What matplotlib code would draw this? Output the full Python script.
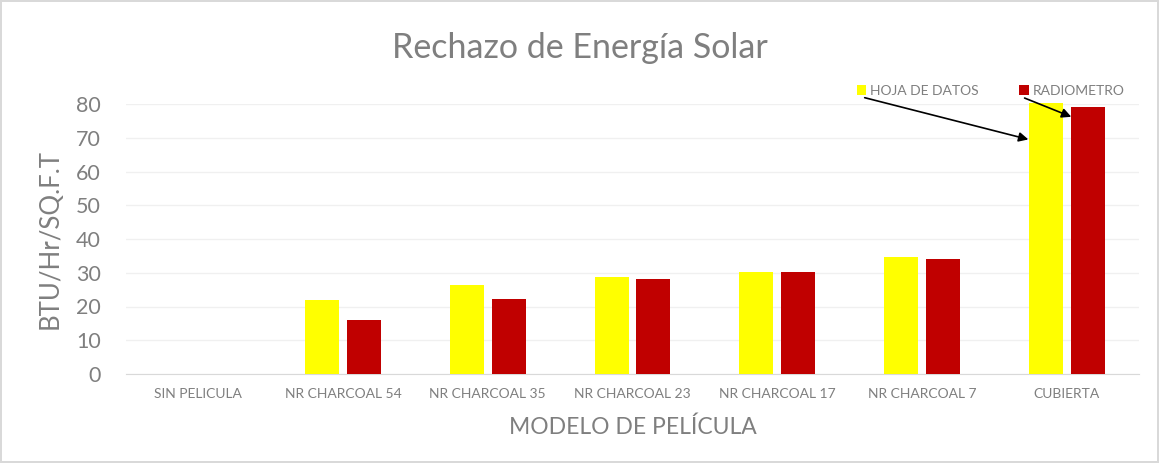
import numpy as np
import matplotlib.pyplot as plt

plt.rcParams['font.family'] = ['Lato', 'DejaVu Sans']

modelos = ['SIN PELICULA', 'NR CHARCOAL 54', 'NR CHARCOAL 35', 'NR CHARCOAL 23',
           'NR CHARCOAL 17', 'NR CHARCOAL 7', 'CUBIERTA']
hoja_datos = [0, 21.9, 26.4, 28.7, 30.2, 34.7, 80.2]
radiometro = [0, 16.0, 22.2, 28.1, 30.2, 34.1, 79.0]
yticks = [0, 10, 20, 30, 40, 50, 60, 70, 80]

grey = '#7f7f7f'
x = np.arange(len(modelos))
w = 0.235
off = 0.145

fig = plt.figure(figsize=(11.59, 4.63), dpi=100)
fig.patch.set_edgecolor('#d9d9d9')
fig.patch.set_linewidth(1.5)
ax = fig.add_axes([126/1159, 1-374/463, 1013/1159, 270/463])

b1 = ax.bar(x - off, hoja_datos, w, color='#ffff00', label='HOJA DE DATOS', clip_on=False, zorder=3)
b2 = ax.bar(x + off, radiometro, w, color='#c00000', label='RADIOMETRO', clip_on=False, zorder=3)

ax.set_xlim(-0.5, len(modelos) - 0.5)
ax.set_ylim(0, 80)
ax.set_yticks(yticks)
ax.set_xticks(x)
ax.set_xticklabels(modelos, fontsize=10, color=grey)
ax.tick_params(axis='y', labelsize=15.5, labelcolor=grey, length=0, pad=18)
ax.tick_params(axis='x', length=0, pad=10)
ax.grid(axis='y', color='#f0f0f0', linewidth=1, zorder=0)
for s in ['top', 'right', 'left']:
    ax.spines[s].set_visible(False)
ax.spines['bottom'].set_color('#d9d9d9')

ax.set_ylabel('BTU/Hr/SQ.F.T', fontsize=18.5, color=grey, labelpad=10)
ax.set_xlabel('MODELO DE PELÍCULA', fontsize=16.5, color=grey, labelpad=12)
fig.text(0.5, 1 - 48/463, 'Rechazo de Energía Solar', ha='center', va='center',
         fontsize=24.5, color=grey)

fig.legend(handles=[b1, b2], loc='center left', bbox_to_anchor=(844/1159, 1 - 91/463),
           ncol=2, frameon=False, fontsize=10, labelcolor=grey,
           handlelength=0.7, handleheight=0.7, handletextpad=0.3, columnspacing=2.9)

ax.annotate('', xy=(5.754, 69.3), xytext=(862/1159, 1 - 97/463),
            textcoords='figure fraction', xycoords='data',
            arrowprops=dict(arrowstyle='-|>', color='black', lw=1.2, mutation_scale=14), zorder=5)
ax.annotate('', xy=(6.05, 75.9), xytext=(1022/1159, 1 - 97/463),
            textcoords='figure fraction', xycoords='data',
            arrowprops=dict(arrowstyle='-|>', color='black', lw=1.2, mutation_scale=14), zorder=5)

fig.savefig('out.png', dpi=100)
